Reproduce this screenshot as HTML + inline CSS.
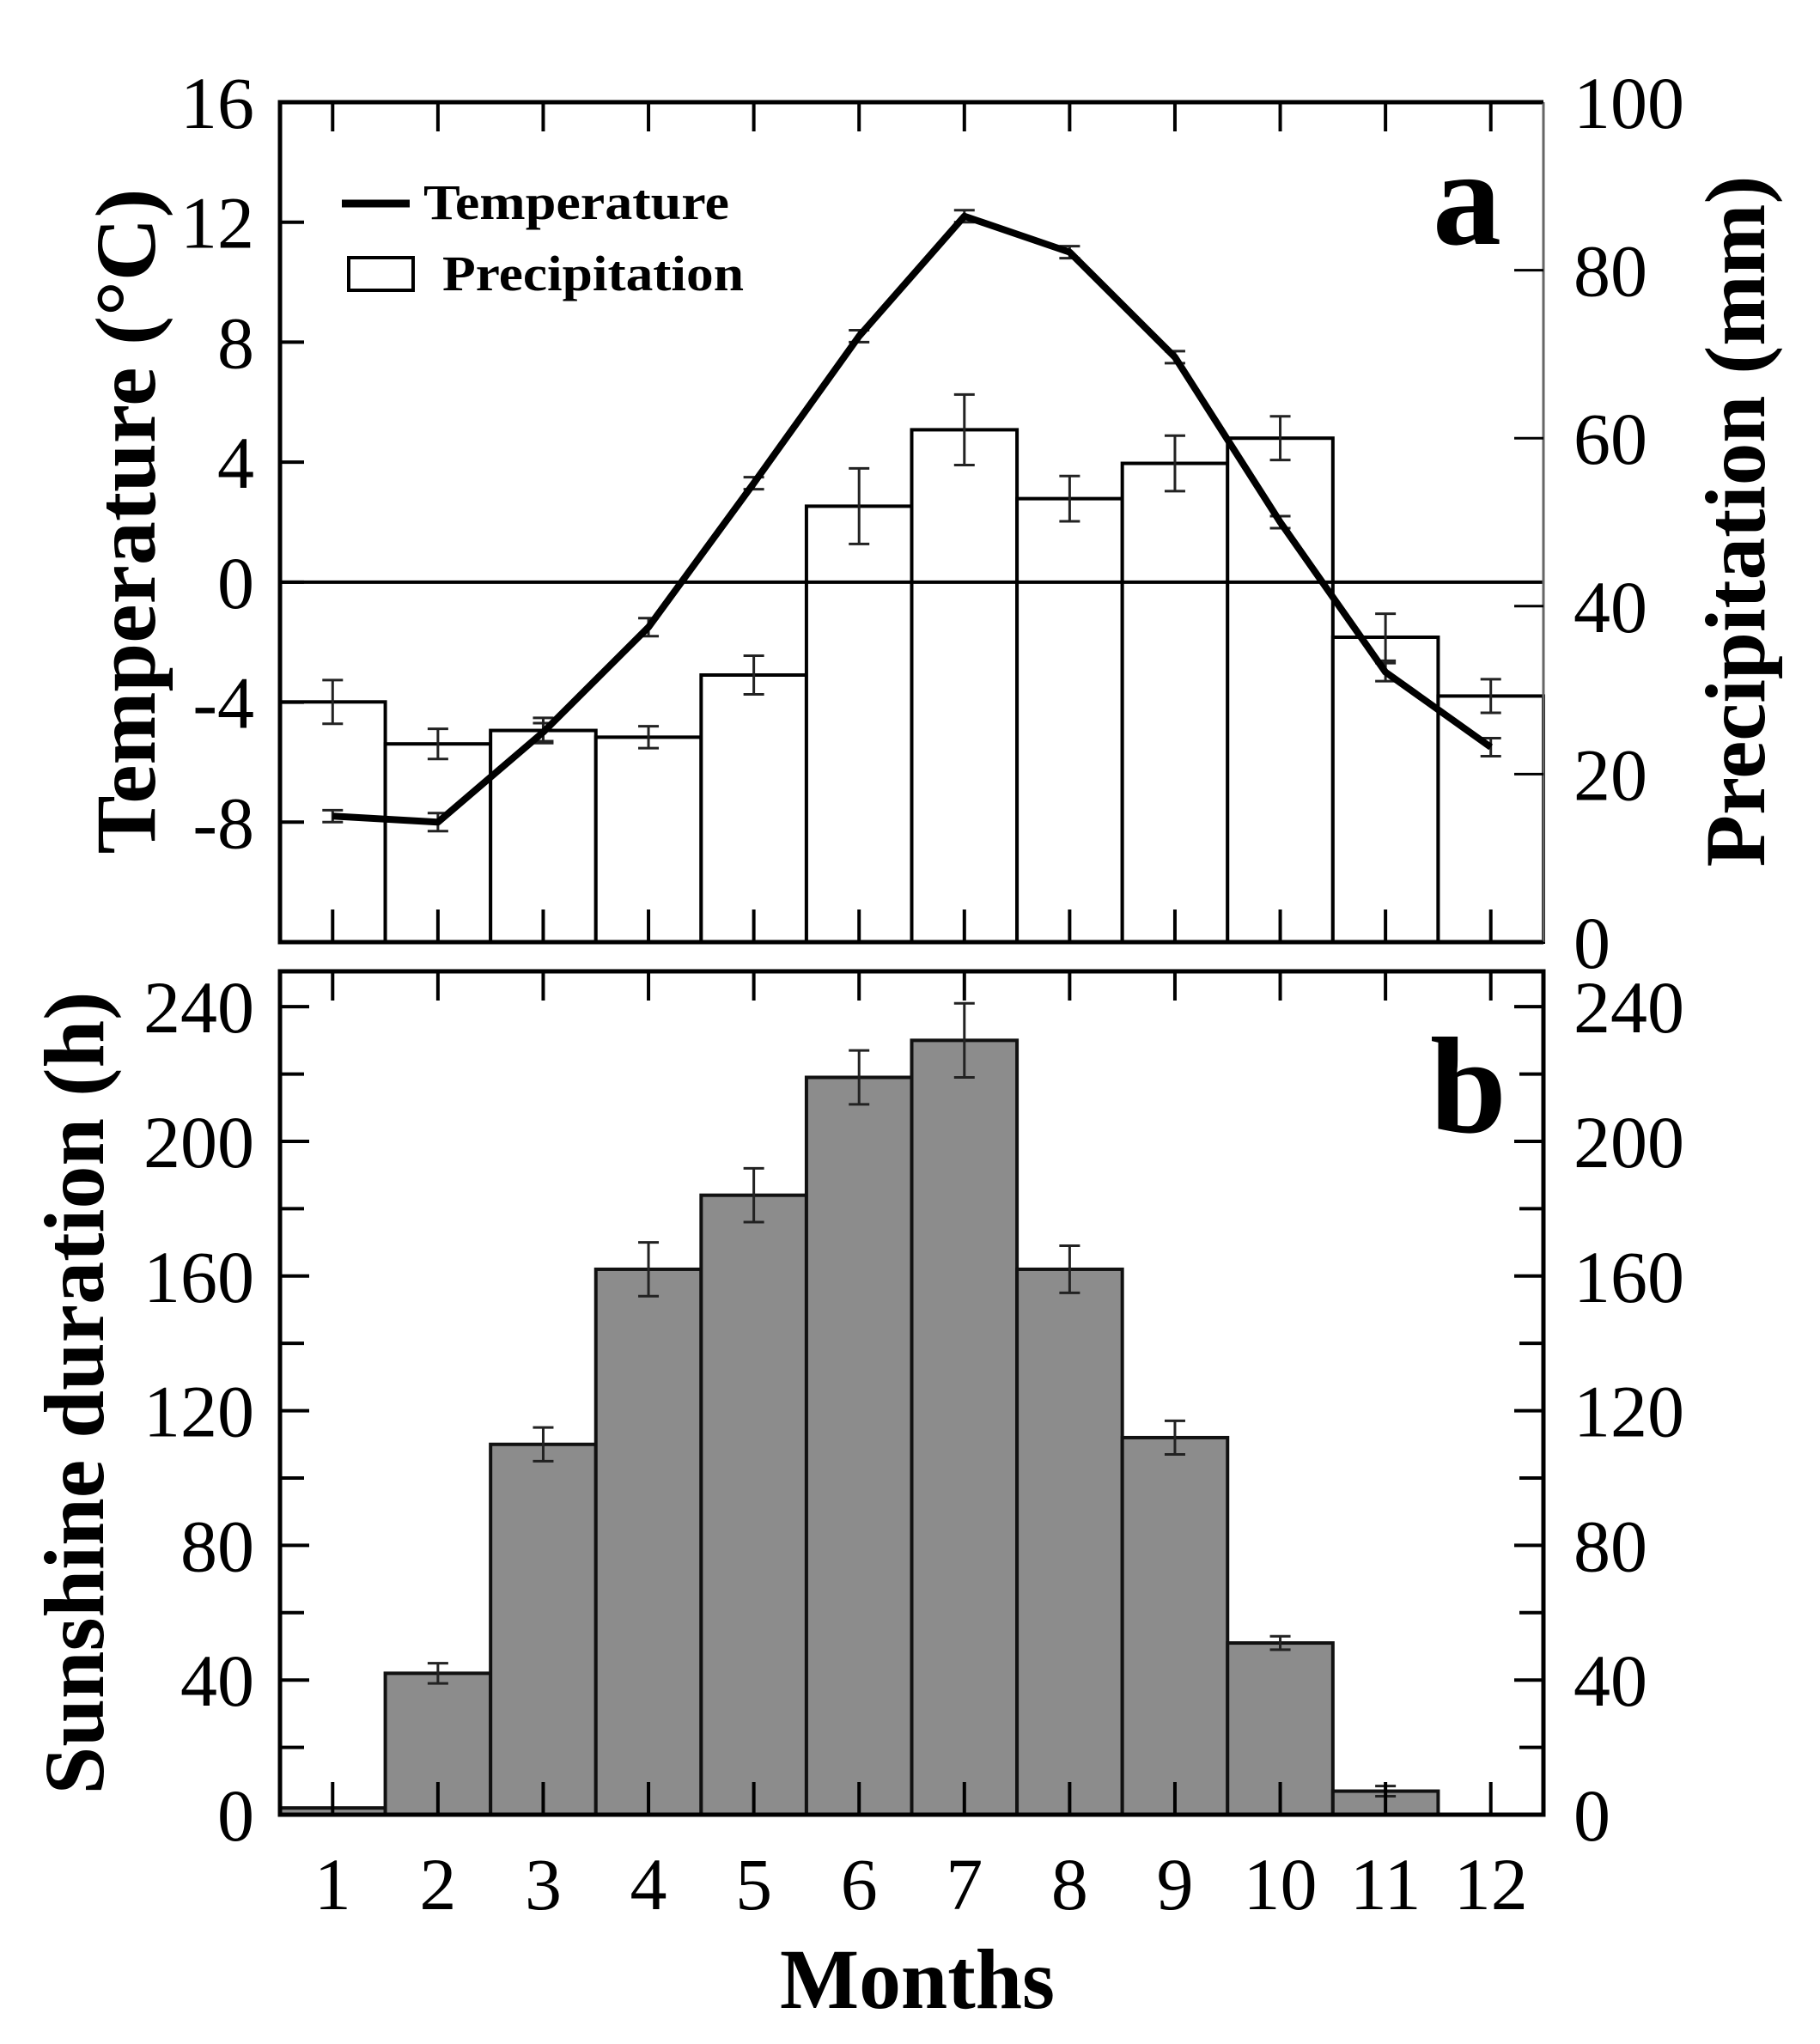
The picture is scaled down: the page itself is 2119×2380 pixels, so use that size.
<!DOCTYPE html>
<html><head><meta charset="utf-8"><style>
html,body{margin:0;padding:0;background:#fff}
svg{display:block}
text{font-family:"Liberation Serif",serif}
</style></head><body>
<svg id="chart" width="2119" height="2380" viewBox="0 0 2119 2380" xmlns="http://www.w3.org/2000/svg"></svg>
<script>
const months = [1,2,3,4,5,6,7,8,9,10,11,12];
const temperature = [-7.8,-8.0,-5.0,-1.5,3.3,8.2,12.2,11.0,7.5,2.0,-3.0,-5.5];
const temperatureErr = [0.2,0.3,0.3,0.3,0.2,0.2,0.2,0.2,0.2,0.2,0.3,0.3];
const precipitation = [28.6,23.6,25.2,24.4,31.8,51.9,61.0,52.8,57.0,60.0,36.3,29.3];
const precipitationErr = [2.6,1.8,1.5,1.3,2.3,4.5,4.2,2.7,3.3,2.6,2.8,2.0];
const sunshine = [2,42,110,162,184,219,230,162,112,51,7,0];
const sunshineErr = [0,3,5,8,8,8,11,7,5,2,1.5,0];
const tempTicks = [-8,-4,0,4,8,12,16];
const precipTicks = [0,20,40,60,80,100];
const sunTicks = [0,40,80,120,160,200,240];

const svg = document.getElementById('chart');
const NS = 'http://www.w3.org/2000/svg';
function mk(tag, attrs, parent){
  const e = document.createElementNS(NS, tag);
  for (const k in attrs) e.setAttribute(k, attrs[k]);
  (parent||svg).appendChild(e);
  return e;
}
const L = 326, R = 1797;
const aTop = 119, aBot = 1097, bTop = 1131, bBot = 2113;
const x = m => L + (m - 0.5) * (R - L) / 12;
const bw = (R - L) / 12;
const yT = v => aBot - (v + 12) / 28 * (aBot - aTop);
const yP = v => aBot - v / 100 * (aBot - aTop);
const yS = v => bBot - v / 250.5 * (bBot - bTop);

// ---- panel a ----
const ga = mk('g', {});


precipitation.forEach((v, i) => {
  const r = mk('rect', {x: x(months[i]) - bw/2, y: yP(v), width: bw, height: yP(0) - yP(v), fill: '#fff', stroke: '#000', 'stroke-width': 4}, ga);
  
  
});
function errBar(g, cx, yTop, yBottom, name, w){
  const e = mk('path', {d: `M${cx-12},${yTop}H${cx+12}M${cx},${yTop}V${yBottom}M${cx-12},${yBottom}H${cx+12}`, stroke: '#222', 'stroke-width': w||3, fill: 'none'}, g);
  
  
}
precipitation.forEach((v, i) => errBar(ga, x(months[i]), yP(v + precipitationErr[i]), yP(v - precipitationErr[i]), 'precip-error-' + months[i]));
const zl = mk('line', {x1: L, x2: R, y1: yT(0), y2: yT(0), stroke: '#000', 'stroke-width': 4}, ga);


months.forEach(m => {
  mk('line', {x1: x(m), x2: x(m), y1: aTop, y2: aTop + 34, stroke: '#000', 'stroke-width': 4}, ga);
  mk('line', {x1: x(m), x2: x(m), y1: aBot, y2: aBot - 38, stroke: '#000', 'stroke-width': 4}, ga);
});
temperature.forEach((v, i) => errBar(ga, x(months[i]), yT(v + temperatureErr[i]), yT(v - temperatureErr[i]), 'temp-error-' + months[i]));
const tl = mk('polyline', {points: temperature.map((v, i) => x(months[i]) + ',' + yT(v)).join(' '), fill: 'none', stroke: '#000', 'stroke-width': 8, 'stroke-linejoin': 'round'}, ga);


mk('path', {d: `M${R},${aTop}H${L}V${aBot}H${R}`, fill: 'none', stroke: '#000', 'stroke-width': 5}, ga);
mk('line', {x1: R, x2: R, y1: aTop, y2: aBot, stroke: '#666', 'stroke-width': 3}, ga);
tempTicks.forEach(t => {
  mk('line', {x1: L, x2: L + 28, y1: yT(t), y2: yT(t), stroke: '#000', 'stroke-width': 4}, ga);
  const tx = mk('text', {x: 296, y: yT(t) + 30, 'font-size': 86, 'text-anchor': 'end'}, ga);
  tx.textContent = t < 0 ? '-' + Math.abs(t) : String(t);
  
  
});
precipTicks.forEach(t => {
  mk('line', {x1: R, x2: R - 34, y1: yP(t), y2: yP(t), stroke: '#000', 'stroke-width': 3}, ga);
  const tx = mk('text', {x: 1832, y: yP(t) + 30, 'font-size': 86}, ga);
  tx.textContent = String(t);
  
  
});
const tt = mk('text', {transform: 'translate(180,607) rotate(-90)', 'font-size': 100, 'font-weight': 'bold', 'text-anchor': 'middle', textLength: 775, lengthAdjust: 'spacingAndGlyphs'}, ga);
tt.textContent = 'Temperature (°C)';


const pt = mk('text', {transform: 'translate(2054,607) rotate(-90)', 'font-size': 100, 'font-weight': 'bold', 'text-anchor': 'middle', textLength: 805, lengthAdjust: 'spacingAndGlyphs'}, ga);
pt.textContent = 'Precipitation (mm)';


const lg = mk('g', {}, ga);


mk('line', {x1: 398, x2: 477, y1: 237, y2: 237, stroke: '#000', 'stroke-width': 9}, lg);
const l1 = mk('text', {x: 493, y: 255, 'font-size': 58, 'font-weight': 'bold', textLength: 356, lengthAdjust: 'spacingAndGlyphs'}, lg);
l1.textContent = 'Temperature';


mk('rect', {x: 406, y: 300, width: 75, height: 38, fill: '#fff', stroke: '#000', 'stroke-width': 4}, lg);
const l2 = mk('text', {x: 515, y: 338, 'font-size': 58, 'font-weight': 'bold', textLength: 351, lengthAdjust: 'spacingAndGlyphs'}, lg);
l2.textContent = 'Precipitation';


const la = mk('text', {x: 1668, y: 284, 'font-size': 160, 'font-weight': 'bold'}, ga);
la.textContent = 'a';



// ---- panel b ----
const gb = mk('g', {});


sunshine.forEach((v, i) => {
  const r = mk('rect', {x: x(months[i]) - bw/2, y: yS(v), width: bw, height: yS(0) - yS(v), fill: '#8c8c8c', stroke: '#111', 'stroke-width': 4}, gb);
  
  
});
sunshine.forEach((v, i) => { if (sunshineErr[i] > 0) errBar(gb, x(months[i]), yS(v + sunshineErr[i]), yS(v - sunshineErr[i]), 'sunshine-error-' + months[i]); });
months.forEach(m => {
  mk('line', {x1: x(m), x2: x(m), y1: bTop, y2: bTop + 34, stroke: '#000', 'stroke-width': 4}, gb);
  mk('line', {x1: x(m), x2: x(m), y1: bBot, y2: bBot - 38, stroke: '#000', 'stroke-width': 4}, gb);
  const tx = mk('text', {x: x(m), y: 2223, 'font-size': 86, 'text-anchor': 'middle'}, gb);
  tx.textContent = String(m);
  
  
});
mk('rect', {x: L, y: bTop, width: R - L, height: bBot - bTop, fill: 'none', stroke: '#000', 'stroke-width': 5}, gb);
for (let t = 0; t <= 240; t += 20) {
  const len = t % 40 === 0 ? 34 : 28;
  mk('line', {x1: L, x2: L + len, y1: yS(t), y2: yS(t), stroke: '#000', 'stroke-width': 4}, gb);
  mk('line', {x1: R, x2: R - len, y1: yS(t), y2: yS(t), stroke: '#000', 'stroke-width': 4}, gb);
}
sunTicks.forEach(t => {
  const a = mk('text', {x: 296, y: yS(t) + 30, 'font-size': 86, 'text-anchor': 'end'}, gb);
  a.textContent = String(t);
  
  
  const b = mk('text', {x: 1832, y: yS(t) + 30, 'font-size': 86}, gb);
  b.textContent = String(t);
  
  
});
const st = mk('text', {transform: 'translate(120,1622) rotate(-90)', 'font-size': 100, 'font-weight': 'bold', 'text-anchor': 'middle', textLength: 935, lengthAdjust: 'spacingAndGlyphs'}, gb);
st.textContent = 'Sunshine duration (h)';


const lb = mk('text', {x: 1665, y: 1318, 'font-size': 160, 'font-weight': 'bold'}, gb);
lb.textContent = 'b';


const mt = mk('text', {x: 1068, y: 2338, 'font-size': 100, 'font-weight': 'bold', 'text-anchor': 'middle', textLength: 320, lengthAdjust: 'spacingAndGlyphs'});
mt.textContent = 'Months';


</script>
</body></html>
